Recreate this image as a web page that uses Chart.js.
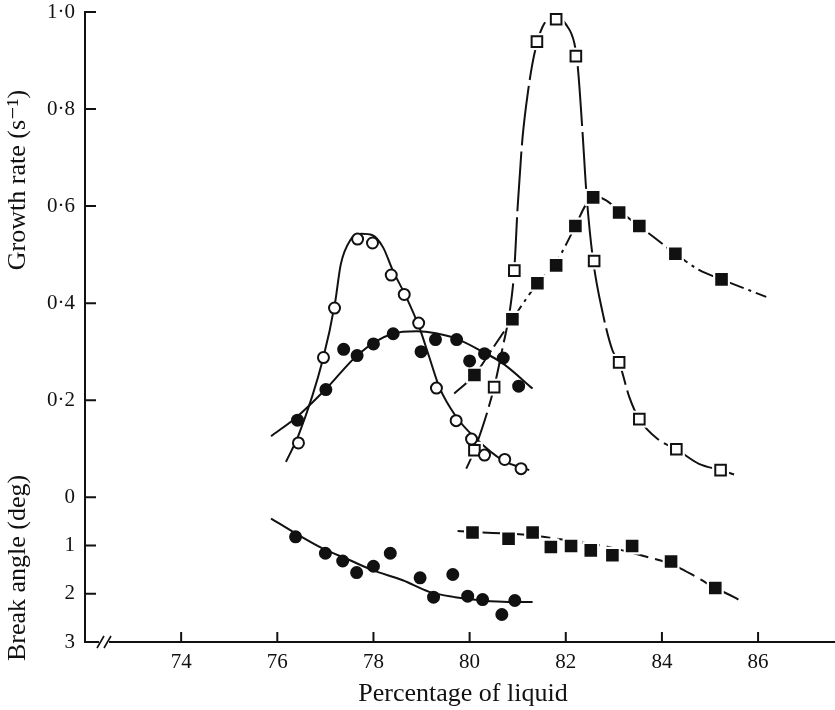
<!DOCTYPE html>
<html>
<head>
<meta charset="utf-8">
<script src="https://cdn.jsdelivr.net/npm/chart.js@4.4.1/dist/chart.umd.min.js"></script>
<style>
  html, body { margin: 0; padding: 0; background: #fff; overflow: hidden; }
  #wrap { width: 835px; height: 710px; }
  canvas { display: block; }
</style>
</head>
<body>
<div id="wrap"><canvas id="grafico"></canvas></div>
<script>
// Datos (x = porcentaje de liquido)

const xTicks = [74, 76, 78, 80, 82, 84, 86];
const growthTicks = [0, 0.2, 0.4, 0.6, 0.8, 1.0];
const growthLabels = ['0', '0·2', '0·4', '0·6', '0·8', '1·0'];
const angleTicks = [1, 2, 3];
const angleLabels = ['1', '2', '3'];

// tasa de crecimiento: circulos abiertos
const openCircX = [76.44, 76.96, 77.19, 77.67, 77.98, 78.37, 78.64, 78.94, 79.31, 79.72, 80.04, 80.31, 80.73, 81.07];
const openCircY = [0.112, 0.288, 0.390, 0.532, 0.524, 0.458, 0.418, 0.359, 0.225, 0.158, 0.120, 0.087, 0.078, 0.059];
const openCircCurveX = [76.18, 76.45, 76.95, 77.2, 77.32, 77.52, 77.75, 77.98, 78.2, 78.4, 78.68, 78.95, 79.16, 79.37, 79.72, 80.13, 80.69, 81.24];
const openCircCurveY = [0.073, 0.13, 0.285, 0.40, 0.48, 0.53, 0.543, 0.540, 0.515, 0.468, 0.413, 0.351, 0.289, 0.227, 0.166, 0.121, 0.076, 0.056];

// tasa de crecimiento: circulos llenos
const fullCircX = [76.42, 77.01, 77.38, 77.66, 78.0, 78.41, 78.99, 79.29, 79.73, 80.0, 80.31, 80.70, 81.02];
const fullCircY = [0.159, 0.222, 0.305, 0.292, 0.316, 0.337, 0.300, 0.325, 0.325, 0.281, 0.296, 0.287, 0.229];
const fullCircCurveX = [75.87, 76.4, 77.0, 77.7, 78.4, 78.9, 79.3, 79.72, 80.27, 80.69, 81.31];
const fullCircCurveY = [0.126, 0.165, 0.222, 0.296, 0.337, 0.342, 0.338, 0.327, 0.300, 0.276, 0.224];

// tasa de crecimiento: cuadrados abiertos
const openSqX = [80.10, 80.51, 80.93, 81.40, 81.80, 82.21, 82.59, 83.11, 83.53, 84.30, 85.22];
const openSqY = [0.097, 0.227, 0.467, 0.939, 0.985, 0.909, 0.487, 0.278, 0.161, 0.099, 0.056];
const openSqCurveX = [79.93, 80.10, 80.51, 80.69, 80.83, 80.93, 81.0, 81.1, 81.22, 81.35, 81.52, 81.80, 82.0, 82.18, 82.25, 82.35, 82.43, 82.56, 82.77, 82.97, 83.11, 83.32, 83.53, 83.94, 84.30, 84.77, 85.22, 85.5];
const openSqCurveY = [0.059, 0.097, 0.227, 0.31, 0.38, 0.47, 0.60, 0.74, 0.84, 0.915, 0.970, 0.994, 0.975, 0.935, 0.887, 0.75, 0.626, 0.495, 0.379, 0.303, 0.278, 0.207, 0.161, 0.118, 0.099, 0.069, 0.056, 0.047];

// tasa de crecimiento: cuadrados llenos
const fullSqX = [80.10, 80.89, 81.41, 81.80, 82.20, 82.57, 83.11, 83.53, 84.28, 85.24];
const fullSqY = [0.252, 0.367, 0.441, 0.478, 0.559, 0.618, 0.587, 0.559, 0.502, 0.449];
const fullSqCurveX = [79.68, 80.10, 80.5, 80.89, 81.41, 81.80, 82.2, 82.4, 82.57, 82.84, 83.11, 83.53, 84.28, 84.78, 85.24, 86.17];
const fullSqCurveY = [0.214, 0.252, 0.31, 0.367, 0.441, 0.485, 0.559, 0.60, 0.620, 0.612, 0.590, 0.559, 0.502, 0.468, 0.449, 0.413];

// angulo de quiebre (grados): circulos llenos
const angCircX = [76.38, 77.0, 77.36, 77.65, 78.0, 78.35, 78.97, 79.25, 79.65, 79.96, 80.27, 80.67, 80.94];
const angCircA = [0.82, 1.16, 1.32, 1.56, 1.43, 1.16, 1.67, 2.07, 1.60, 2.05, 2.12, 2.43, 2.14];
const angCircCurveX = [75.87, 76.4, 76.94, 77.5, 77.98, 78.61, 79.16, 79.7, 80.27, 80.8, 81.31];
const angCircCurveA = [0.44, 0.76, 1.06, 1.30, 1.51, 1.72, 1.96, 2.07, 2.14, 2.17, 2.17];

// angulo de quiebre (grados): cuadrados llenos
const angSqX = [80.06, 80.81, 81.31, 81.69, 82.11, 82.52, 82.97, 83.38, 84.19, 85.11];
const angSqA = [0.73, 0.86, 0.73, 1.03, 1.01, 1.10, 1.20, 1.01, 1.33, 1.88];
const angSqCurveX = [79.75, 80.48, 81.10, 81.69, 82.3, 82.89, 83.18, 83.74, 84.19, 84.71, 85.11, 85.5, 85.68];
const angSqCurveA = [0.70, 0.74, 0.77, 0.84, 0.93, 1.03, 1.10, 1.25, 1.38, 1.65, 1.88, 2.07, 2.17];

// 1 grado de angulo equivale a esta fraccion de la escala de crecimiento
const ANGLE_K = 48.2 / 485;

const INK = '#111';
const FONT = "'Liberation Serif', 'DejaVu Serif', serif";

const pts = (xs, ys) => xs.map((x, i) => ({ x: x, y: ys[i] }));
const angPts = (xs, as) => xs.map((x, i) => ({ x: x, y: -as[i] * ANGLE_K }));

// ticks del eje y: angulos abajo (invertidos), crecimiento arriba
const yTickValues = angleTicks.map(a => -a * ANGLE_K).reverse().concat(growthTicks);
const yTickLabels = angleLabels.slice().reverse().concat(growthLabels);

function curve(data, dash) {
    return {
        data: data, showLine: true, pointRadius: 0, borderColor: INK,
        borderWidth: 2, borderDash: dash, cubicInterpolationMode: 'monotone', order: 10
    };
}
function marks(data, style, r, fill) {
    return {
        data: data, showLine: false, pointStyle: style, pointRadius: r,
        backgroundColor: fill, borderColor: INK, borderWidth: 2, order: 0
    };
}
function halo(data) {
    return {
        data: data, showLine: false, pointStyle: 'rect', pointRadius: 12,
        backgroundColor: '#fff', borderWidth: 0, order: 5
    };
}

// dibuja marcas interiores de los ejes, titulos y el corte del eje x
const extras = {
    id: 'extras',
    afterDraw(chart) {
        const ctx = chart.ctx;
        const xs = chart.scales.x, ys = chart.scales.y;
        const a = chart.chartArea;
        ctx.save();
        ctx.strokeStyle = INK;
        ctx.lineWidth = 2;
        ctx.beginPath();
        xTicks.forEach(v => {
            const px = xs.getPixelForValue(v);
            ctx.moveTo(px, a.bottom);
            ctx.lineTo(px, a.bottom - 10);
        });
        yTickValues.forEach(v => {
            const py = ys.getPixelForValue(v);
            if (py > a.bottom - 2) return;
            ctx.moveTo(a.left, py);
            ctx.lineTo(a.left + 11, py);
        });
        ctx.stroke();

        // corte //
        ctx.fillStyle = '#fff';
        ctx.fillRect(a.left + 14, a.bottom - 3, 10, 6);
        ctx.beginPath();
        ctx.lineWidth = 1.6;
        ctx.moveTo(a.left + 12, a.bottom + 6); ctx.lineTo(a.left + 19, a.bottom - 6);
        ctx.moveTo(a.left + 19, a.bottom + 6); ctx.lineTo(a.left + 26, a.bottom - 6);
        ctx.stroke();

        ctx.fillStyle = INK;
        ctx.font = '26px ' + FONT;
        ctx.textAlign = 'center';
        ctx.textBaseline = 'middle';
        ctx.fillText('Percentage of liquid', 463, 694);

        ctx.save();
        ctx.translate(18, 180);
        ctx.rotate(-Math.PI / 2);
        ctx.fillText('Growth rate (s⁻¹)', 0, 0);
        ctx.restore();
        ctx.save();
        ctx.translate(18, 568);
        ctx.rotate(-Math.PI / 2);
        ctx.fillText('Break angle (deg)', 0, 0);
        ctx.restore();
        ctx.restore();
    }
};

const ctxG = document.getElementById('grafico').getContext('2d');

const grafico = new Chart(ctxG, {
    type: 'scatter',
    data: {
        datasets: [
            curve(pts(openCircCurveX, openCircCurveY), []),
            curve(pts(fullCircCurveX, fullCircCurveY), []),
            curve(pts(openSqCurveX, openSqCurveY), [60, 6]),
            curve(pts(fullSqCurveX, fullSqCurveY), [18, 5, 3, 5]),
            curve(angPts(angCircCurveX, angCircCurveA), []),
            curve(angPts(angSqCurveX, angSqCurveA), [18, 7]),
            halo(pts(openSqX, openSqY)),
            halo(pts(fullSqX, fullSqY)),
            halo(angPts(angSqX, angSqA)),
            marks(pts(openCircX, openCircY), 'circle', 5.5, '#fff'),
            marks(pts(fullCircX, fullCircY), 'circle', 5.5, INK),
            marks(pts(openSqX, openSqY), 'rect', 7.5, '#fff'),
            marks(pts(fullSqX, fullSqY), 'rect', 7.5, INK),
            marks(angPts(angCircX, angCircA), 'circle', 5.5, INK),
            marks(angPts(angSqX, angSqA), 'rect', 7.5, INK)
        ]
    },
    options: {
        responsive: true,
        maintainAspectRatio: false,
        animation: false,
        layout: { autoPadding: false, padding: { top: 12, left: 0, right: 0, bottom: 0 } },
        plugins: { legend: { display: false }, tooltip: { enabled: false } },
        scales: {
            x: {
                type: 'linear', min: 72, max: 87.6,
                afterBuildTicks: s => { s.ticks = xTicks.map(v => ({ value: v })); },
                afterFit: s => { s.height = 68; s.paddingLeft = 0; s.paddingRight = 0; },
                ticks: { color: INK, font: { family: FONT, size: 21 }, padding: 8, callback: v => String(v) },
                grid: { drawOnChartArea: false, drawTicks: false },
                border: { color: INK, width: 2 }
            },
            y: {
                type: 'linear', min: -3 * ANGLE_K, max: 1.0,
                afterBuildTicks: s => { s.ticks = yTickValues.map(v => ({ value: v })); },
                afterFit: s => { s.width = 85; s.paddingTop = 0; s.paddingBottom = 0; },
                ticks: { color: INK, font: { family: FONT, size: 21 }, padding: 10,
                    callback: (v, i) => yTickLabels[i] },
                grid: { drawOnChartArea: false, drawTicks: false },
                border: { color: INK, width: 2 }
            }
        }
    },
    plugins: [extras]
});
</script>
</body>
</html>
